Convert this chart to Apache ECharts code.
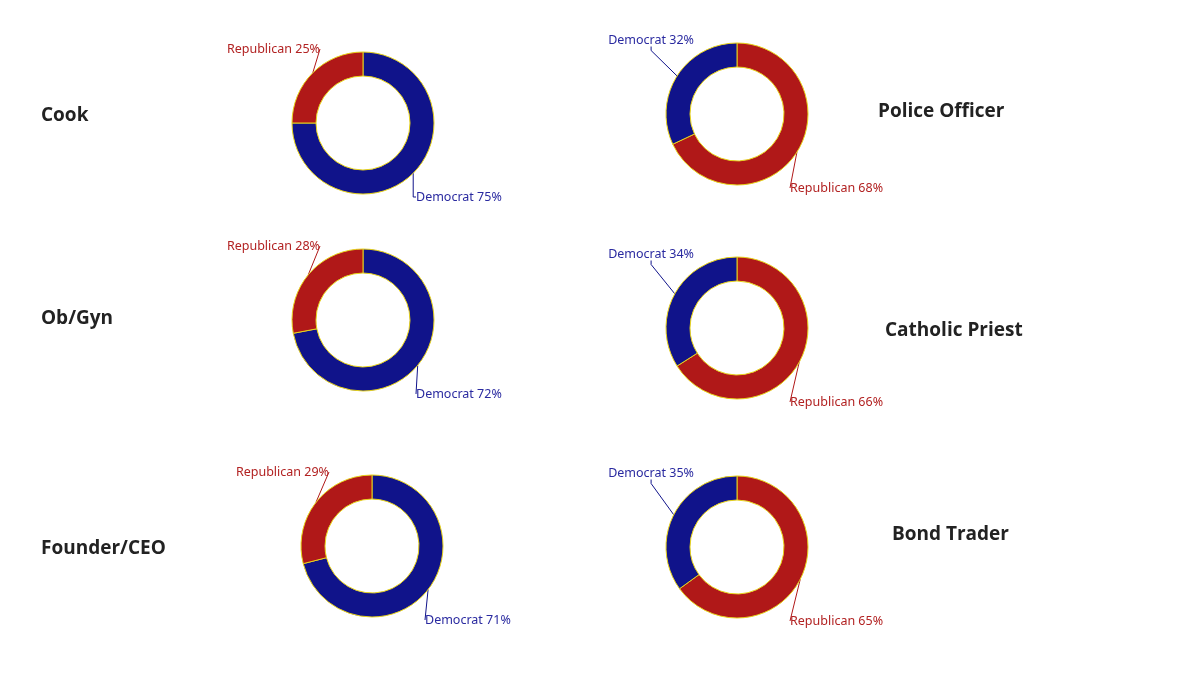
<!DOCTYPE html>
<html>
<head>
<meta charset="utf-8">
<style>
  html, body { margin: 0; padding: 0; background: #fff; }
  #main { width: 1189px; height: 678px; }
</style>
<script src="https://cdn.jsdelivr.net/npm/echarts@6/dist/echarts.min.js"></script>
</head>
<body>
<div id="main"></div>
<script>
// data
const occupations = ['Cook', 'Police Officer', 'Ob/Gyn', 'Catholic Priest', 'Founder/CEO', 'Bond Trader'];
const democratPct = [75, 32, 72, 34, 71, 35];
const republicanPct = [25, 68, 28, 66, 29, 65];

// layout: pie centres and title anchors, one per occupation
const pieCenters = [[363, 123], [737, 114], [363, 320], [737, 328], [372, 546], [737, 547]];
const titlePos = [
    {left: 36, top: 101}, {left: 873, top: 97},
    {left: 36, top: 304}, {left: 880, top: 316},
    {left: 36, top: 534}, {left: 887, top: 520},
];

const demColor = '#10138a';
const repColor = '#b01818';

const chart = echarts.init(document.getElementById('main'));

const series = occupations.map((name, i) => {
    // left column: Democrat first clockwise, right column: Republican first
    const dem = {name: 'Democrat', value: democratPct[i], itemStyle: {color: demColor},
        label: {color: '#2a2aa0'}, labelLine: {lineStyle: {color: demColor}}};
    const rep = {name: 'Republican', value: republicanPct[i], itemStyle: {color: repColor},
        label: {color: '#b22222'}, labelLine: {lineStyle: {color: repColor}}};
    const leftCol = i % 2 === 0;
    return {
        type: 'pie',
        name: name,
        center: pieCenters[i],
        radius: [47, 71],
        startAngle: 90,
        clockwise: true,
        silent: true,
        itemStyle: {borderColor: '#e6d21a', borderWidth: 1},
        label: {
            show: true,
            position: 'outside',
            formatter: '{b} {c}%',
            fontFamily: 'Noto Sans',
            fontSize: 12.5,
        },
        labelLine: {show: true, length: 12, length2: 4, lineStyle: {width: 1}},
        // smaller slice label sits above-left of the ring, larger one below-right
        labelLayout: params => {
            const c = pieCenters[params.seriesIndex];
            if (params.dataIndex === 1) {
                return {x: c[0] - 43, y: c[1] - 74, align: 'right', verticalAlign: 'middle'};
            }
            return {x: c[0] + 53, y: c[1] + 74, align: 'left', verticalAlign: 'middle'};
        },
        data: leftCol ? [dem, rep] : [rep, dem],
    };
});

const titles = occupations.map((name, i) => ({
    text: name,
    left: titlePos[i].left,
    top: titlePos[i].top,
    textStyle: {fontFamily: 'Open Sans', fontWeight: 'bold', fontSize: 19, color: '#222'},
}));

chart.setOption({
    animation: false,
    title: titles,
    series: series,
});
</script>
</body>
</html>
